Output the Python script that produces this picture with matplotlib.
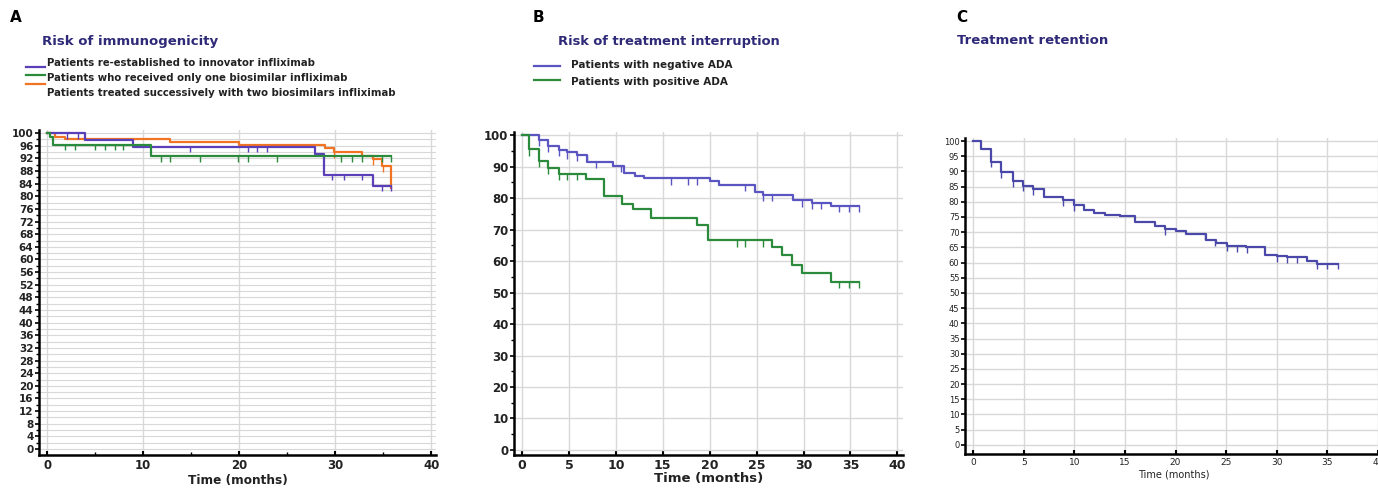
import numpy as np
import matplotlib
matplotlib.use("Agg")
import matplotlib.pyplot as plt
from matplotlib.lines import Line2D

# --- data (months, % of patients) ---
# A: risk of immunogenicity
a_innov_t = [0, 3.9, 8.9, 27.9, 28.8, 33.9, 35.8]
a_innov_s = [100, 97.8, 95.7, 93.3, 86.9, 83.4, 83.4]
a_innov_cens = [2.1, 3.2, 14.9, 20.9, 21.9, 22.9, 29.7, 30.9, 32.8, 34.9, 35.8]

a_one_t = [0, 0.3, 0.6, 10.8, 35.8]
a_one_s = [100, 98.9, 96.4, 92.7, 92.7]
a_one_cens = [1.85, 2.9, 5.0, 6.0, 7.1, 7.9, 11.9, 12.8, 15.9, 19.9, 20.9, 23.9,
              30.6, 31.8, 32.8, 34.9, 35.8]

a_two_t = [0, 0.8, 1.85, 12.8, 20.0, 28.9, 29.9, 32.8, 33.9, 34.9, 35.8]
a_two_s = [100, 98.8, 98.2, 97.2, 96.4, 95.3, 94.0, 92.9, 91.7, 89.6, 82.7]
a_two_cens = [29.9, 33.9, 35.0]

# B: risk of treatment interruption
b_neg_t = [0, 1.8, 2.8, 3.9, 4.8, 5.9, 6.96, 9.75, 10.9, 12, 13, 20, 21, 24.8,
           25.7, 28.9, 30.9, 32.9, 35.9]
b_neg_s = [100, 98.4, 96.6, 95.3, 94.5, 93.7, 91.5, 90.2, 88.1, 87.1, 86.3, 85.3,
           84.1, 81.8, 81.0, 79.3, 78.6, 77.5, 77.5]
b_neg_cens = [1.8, 2.8, 3.9, 4.8, 5.9, 6.9, 7.9, 10.5, 15.9, 17.7, 18.7, 23.75,
              25.7, 26.6, 29.8, 30.9, 31.9, 33.75, 34.8, 35.9]

b_pos_t = [0, 0.8, 1.8, 2.8, 3.9, 6.8, 8.7, 10.7, 11.8, 13.75, 18.7, 19.8, 26.6,
           27.7, 28.75, 29.8, 32.9, 35.9]
b_pos_s = [100, 95.5, 91.8, 89.7, 87.6, 86.0, 80.7, 78.2, 76.4, 73.8, 71.4, 66.6,
           64.5, 61.8, 58.9, 56.3, 53.4, 53.4]
b_pos_cens = [0.8, 1.8, 2.8, 3.9, 4.8, 5.9, 22.9, 23.75, 25.7, 33.75, 34.8, 35.9]

# C: treatment retention
c_t = [0, 0.83, 1.8, 2.8, 3.9, 4.9, 5.9, 7.0, 8.9, 10.0, 11.0, 11.9, 13.0, 14.5,
       16.0, 18.0, 19.0, 20.0, 21.0, 23.0, 24.0, 25.1, 26.0, 27.0, 28.8, 30.0,
       31.0, 33.0, 34.0, 36.1]
c_s = [100, 97.4, 93.1, 89.7, 86.8, 85.3, 84.2, 81.5, 80.5, 78.9, 77.2, 76.4,
       75.8, 75.3, 73.3, 72.0, 70.9, 70.4, 69.3, 67.4, 66.5, 65.6, 65.3, 65.0,
       62.5, 62.0, 61.7, 60.4, 59.6, 59.6]
c_cens = [1.8, 2.8, 3.9, 4.9, 5.9, 8.9, 10.0, 19.0, 22.9, 23.9, 25.1, 26.1, 27.1,
          30.0, 31.0, 32.0, 34.0, 35.0, 36.1]

PURPLE = "#5a3fb8"
GREEN = "#2b8a3c"
ORANGE = "#f07424"
NAVY = "#2e2a78"
INK = "#222222"

W, H = 1378, 488
fig = plt.figure(figsize=(W / 100, H / 100), dpi=100)


def box(x0, x1, ybot, ytop):
    # pixel box -> figure fraction
    return [x0 / W, 1 - ybot / H, (x1 - x0) / W, (ybot - ytop) / H]


def km(ax, t, s, cens, color, tick):
    ax.step(t, s, where="post", color=color, lw=1.6, zorder=3)
    idx = np.searchsorted(t, cens, side="right") - 1
    yc = np.array(s)[idx]
    ax.vlines(cens, yc - tick, yc, color=color, lw=1.0, zorder=3)


def style(ax, bold, xsize, ysize):
    for sp in ["top", "right"]:
        ax.spines[sp].set_visible(False)
    ax.spines["left"].set_linewidth(1.8)
    ax.spines["bottom"].set_linewidth(1.8)
    ax.tick_params(axis="y", direction="out", length=3, width=1.2, pad=1,
                   labelsize=ysize)
    ax.tick_params(axis="y", which="minor", direction="out", length=2, width=1)
    ax.tick_params(axis="x", direction="in", length=3, width=1.5, pad=3,
                   labelsize=xsize)
    ax.tick_params(axis="x", which="minor", direction="in", length=2, width=1)
    w = "bold" if bold else "normal"
    for lab in ax.get_xticklabels() + ax.get_yticklabels():
        lab.set_fontweight(w)
        lab.set_color(INK)
    ax.set_axisbelow(True)


# ---------- A ----------
axA = fig.add_axes(box(39, 436, 455, 130))
km(axA, a_two_t, a_two_s, a_two_cens, ORANGE, 1.8)
km(axA, a_innov_t, a_innov_s, a_innov_cens, PURPLE, 1.8)
km(axA, a_one_t, a_one_s, a_one_cens, GREEN, 1.8)
axA.set_xlim(-0.85, 40.5)
axA.set_ylim(-1.9, 101)
axA.set_xticks(np.arange(0, 41, 10))
axA.set_xticks(np.arange(5, 40, 10), minor=True)
axA.set_yticks(np.arange(0, 101, 4))
axA.set_yticks(np.arange(2, 101, 4), minor=True)
axA.grid(True, which="both", axis="y", color="#d8d8d8", lw=0.8)
axA.grid(True, which="major", axis="x", color="#d8d8d8", lw=1.0)
style(axA, True, 8.5, 7.5)
axA.set_xlabel("Time (months)", fontsize=8.7, fontweight="bold", labelpad=1,
               color=INK)

# ---------- B ----------
axB = fig.add_axes(box(514, 903, 455, 132))
km(axB, b_neg_t, b_neg_s, b_neg_cens, "#5a55c0", 2.0)
km(axB, b_pos_t, b_pos_s, b_pos_cens, GREEN, 2.0)
axB.set_xlim(-0.85, 40.6)
axB.set_ylim(-1.6, 101)
axB.set_xticks(np.arange(0, 41, 5))
axB.set_yticks(np.arange(0, 101, 10))
axB.set_yticks(np.arange(5, 100, 10), minor=True)
axB.grid(True, which="major", color="#d8d8d8", lw=1.0)
style(axB, True, 9, 8.5)
axB.set_xlabel("Time (months)", fontsize=9.5, fontweight="bold", labelpad=0,
               color=INK)

# ---------- C ----------
axC = fig.add_axes(box(965, 1383, 454, 138))
km(axC, c_t, c_s, c_cens, "#4a48a8", 1.8)
axC.set_xlim(-0.8, 40.5)
axC.set_ylim(-3.0, 101)
axC.set_xticks(np.arange(0, 41, 5))
axC.set_yticks(np.arange(0, 101, 5))
axC.grid(True, which="major", color="#d8d8d8", lw=1.0)
style(axC, False, 6.5, 6)
axC.set_xlabel("Time (months)", fontsize=7, labelpad=2, color=INK)

# ---------- headings and legends ----------
def ftext(x, y, s, **kw):
    fig.text(x / W, 1 - y / H, s, va="center", ha="left", **kw)


def fline(x0, x1, y, color):
    fig.add_artist(Line2D([x0 / W, x1 / W], [1 - y / H, 1 - y / H],
                          color=color, lw=1.6))


ftext(10, 18, "A", fontsize=11, fontweight="bold")
ftext(42, 41, "Risk of immunogenicity", fontsize=9.5, fontweight="bold", color=NAVY)
fline(26, 45, 67, PURPLE)
fline(26, 45, 75, GREEN)
fline(26, 45, 84, ORANGE)
ftext(47, 63, "Patients re-established to innovator infliximab", fontsize=7.3,
      fontweight="bold", color=INK)
ftext(47, 78, "Patients who received only one biosimilar infliximab", fontsize=7.3,
      fontweight="bold", color=INK)
ftext(47, 93, "Patients treated successively with two biosimilars infliximab",
      fontsize=7.3, fontweight="bold", color=INK)

ftext(533, 18, "B", fontsize=11, fontweight="bold")
ftext(558, 41, "Risk of treatment interruption", fontsize=9.4, fontweight="bold",
      color=NAVY)
fline(534, 560, 66, "#5a55c0")
fline(534, 560, 80, GREEN)
ftext(571, 65, "Patients with negative ADA", fontsize=7.5, fontweight="bold",
      color=INK)
ftext(571, 82, "Patients with positive ADA", fontsize=7.5, fontweight="bold",
      color=INK)

ftext(956, 18, "C", fontsize=11, fontweight="bold")
ftext(957, 41, "Treatment retention", fontsize=9.5, fontweight="bold", color=NAVY)

fig.savefig("out.png", dpi=100)
